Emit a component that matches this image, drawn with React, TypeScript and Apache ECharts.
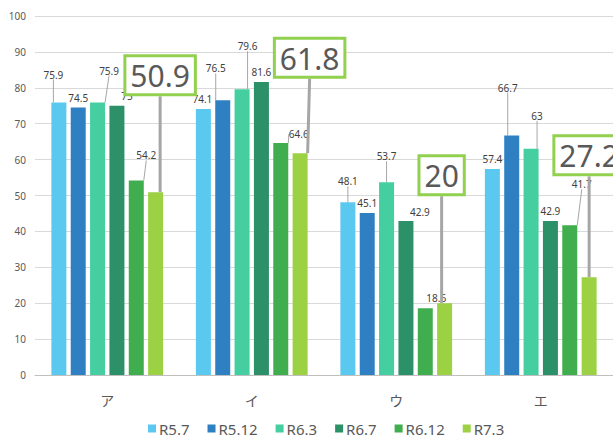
import React, { useEffect, useRef } from "react";
import * as echarts from "echarts";

const categories = ["ア", "イ", "ウ", "エ"];
const seriesNames = ["R5.7", "R5.12", "R6.3", "R6.7", "R6.12", "R7.3"];
const r5_7 = [75.9, 74.1, 48.1, 57.4];
const r5_12 = [74.5, 76.5, 45.1, 66.7];
const r6_3 = [75.9, 79.6, 53.7, 63];
const r6_7 = [75.0, 81.6, 42.9, 42.9];
const r6_12 = [54.2, 64.6, 18.6, 41.7];
const r7_3 = [50.9, 61.8, 20, 27.2];
const yTicks = [0, 100, 10];

const colors = ["#5BC9EF", "#2E80C3", "#45CFA0", "#2C9068", "#40AE4E", "#9BD142"];

// label offsets [dx, dy, showLine] per series, per category (styling only)
const labelOffsets: [number, number, boolean][][] = [
  [[-5.5, -18, true], [-1, 0, false], [0, -11, true], [0, 0, false]],
  [[0, 0, false], [-7, -22, true], [0, 0, false], [-4, -38, true]],
  [[11.5, -22, true], [5.5, -33, true], [0, -16, true], [6, -23, true]],
  [[10, 0, false], [0, 0, false], [14, 1, false], [0, 0, false]],
  [[10, -15, true], [18, 1, true], [11, 0, false], [12, -31, true]],
  [[4.5, -94, true], [9.5, -72.5, true], [-3, -105, true], [0, -99, true]],
];

export default function App() {
  const ref = useRef<HTMLDivElement>(null);
  useEffect(() => {
    if (!ref.current) return;
    const chart = echarts.init(ref.current, null, { renderer: "svg" });
    const allData = [r5_7, r5_12, r6_3, r6_7, r6_12, r7_3];
    const series = allData.map((arr, si) => {
      const big = si === 5;
      return {
        type: "bar",
        name: seriesNames[si],
        barWidth: 15,
        barGap: "29%",
        itemStyle: { color: colors[si] },
        data: arr.map((v, ci) => ({
          value: v,
          labelLine: { show: labelOffsets[si][ci][2] },
        })),
        label: big
          ? {
              show: true,
              position: "top",
              distance: 5,
              fontFamily: "Noto Sans",
              fontSize: 30,
              color: "#595959",
              backgroundColor: "#ffffff",
              borderColor: "#92D050",
              borderWidth: 3,
              padding: [1, 4, 0, 4],
              lineHeight: 35,
            }
          : {
              show: true,
              position: "top",
              distance: 5,
              fontFamily: "Noto Sans",
              fontSize: 10,
              color: "#404040",
            },
        labelLine: big
          ? { show: true, lineStyle: { color: "#a6a6a6", width: 3 } }
          : { show: true, lineStyle: { color: "#a6a6a6", width: 1 } },
        labelLayout: (params: any) => {
          const o = labelOffsets[si][params.dataIndex];
          return { dx: o[0], dy: o[1] };
        },
        z: big ? 5 : 2,
      };
    });
    chart.setOption({
      animation: false,
      grid: { left: 35, right: 0, top: 16, bottom: 63 },
      legend: {
        left: 148,
        top: 421,
        padding: 0,
        itemWidth: 8,
        itemHeight: 8,
        itemGap: 18,
        icon: "rect",
        data: seriesNames,
        textStyle: { fontFamily: "Noto Sans", fontSize: 15, color: "#595959", padding: [0, 0, 0, -2] },
      },
      xAxis: {
        type: "category",
        data: categories,
        axisTick: { show: false },
        axisLine: { lineStyle: { color: "#bfbfbf" } },
        axisLabel: {
          fontFamily: "Noto Sans CJK JP",
          fontSize: 14,
          color: "#595959",
          margin: 18,
        },
      },
      yAxis: {
        type: "value",
        min: yTicks[0],
        max: yTicks[1],
        interval: yTicks[2],
        axisLine: { show: false },
        axisTick: { show: false },
        splitLine: { lineStyle: { color: "#d9d9d9" } },
        axisLabel: { fontFamily: "Noto Sans", fontSize: 10, color: "#595959", margin: 9 },
      },
      graphic: [
        {
          type: "arc",
          shape: { cx: 40, cy: 470, r: 40, startAngle: Math.PI * 0.95, endAngle: Math.PI * 1.2 },
          style: { stroke: "#9fe0f5", lineWidth: 2, fill: "none" },
        },
      ],
      series,
    });
    return () => chart.dispose();
  }, []);
  return (
    <div
      ref={ref}
      style={{ position: "absolute", left: 0, top: 0, width: 613, height: 438, background: "#fff" }}
    />
  );
}
